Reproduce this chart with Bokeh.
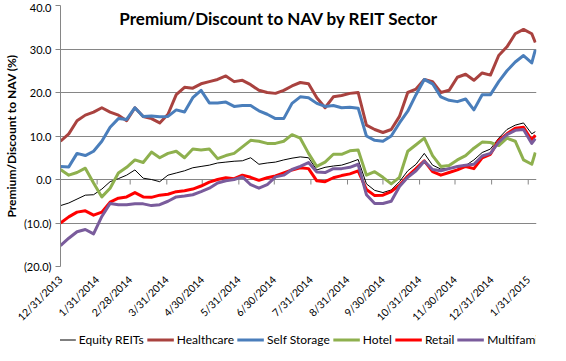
import math
import pandas as pd
from bokeh.plotting import figure
from bokeh.layouts import column
from bokeh.models import Range1d, FixedTicker, Legend, LegendItem, Label
from bokeh.embed import file_html
from bokeh.resources import INLINE

# ---------------- data ----------------
start_date = "2013-12-31"
dates = list(pd.date_range(start_date, periods=58, freq="7D")) + [pd.Timestamp("2015-02-06")]

equity_reits = [-6.0, -5.4, -4.5, -3.6, -3.5, -2.2, -0.5, 0.2, 1.0, 2.2,
                0.3, 0.0, -0.5, 1.0, 1.5, 2.0, 2.7, 3.0, 3.3, 3.8,
                4.0, 4.2, 4.3, 5.0, 3.5, 3.8, 4.0, 4.5, 4.9, 5.2,
                5.0, 2.2, 2.8, 3.1, 3.3, 3.9, 4.6, -1.0, -2.5, -3.0,
                -2.4, -0.5, 2.0, 3.5, 6.0, 3.3, 2.4, 2.6, 2.8, 3.2,
                4.5, 6.2, 7.0, 9.5, 11.5, 12.5, 13.0, 10.5, 11.0]
healthcare = [8.8, 10.5, 13.5, 14.8, 15.5, 16.5, 15.5, 14.8, 13.5, 16.5,
              14.5, 14.0, 13.0, 15.0, 19.5, 21.2, 21.0, 22.0, 22.5, 23.0,
              23.8, 22.5, 22.8, 21.8, 20.5, 20.0, 19.8, 20.5, 21.5, 22.3,
              22.0, 18.8, 16.5, 19.0, 19.3, 19.8, 20.0, 12.5, 11.5, 10.8,
              11.5, 14.5, 20.0, 20.8, 23.0, 22.5, 20.0, 20.5, 23.5, 24.2,
              22.8, 24.5, 24.0, 28.5, 30.5, 33.5, 34.5, 33.5, 31.5]
self_storage = [3.0, 2.9, 6.0, 5.5, 6.5, 8.8, 12.0, 14.0, 13.8, 16.5,
                14.5, 14.6, 14.4, 14.5, 16.0, 15.5, 18.8, 20.5, 17.6, 17.6,
                17.8, 16.8, 17.0, 17.0, 15.8, 15.0, 14.0, 14.0, 17.5, 19.0,
                18.8, 17.5, 16.8, 17.0, 16.5, 16.6, 16.4, 10.0, 9.0, 8.8,
                10.0, 13.0, 15.7, 19.5, 23.0, 22.0, 19.0, 18.2, 17.9, 18.5,
                16.0, 19.5, 19.5, 22.5, 25.0, 27.0, 28.5, 26.8, 29.8]
hotel = [2.3, 1.0, 1.6, 2.6, -0.8, -4.0, -2.0, 1.5, 2.8, 4.5,
         3.9, 6.3, 5.0, 6.0, 6.5, 5.0, 7.0, 6.8, 7.0, 4.8,
         5.5, 6.0, 7.5, 9.0, 8.8, 8.3, 8.3, 8.8, 10.3, 9.5,
         6.0, 3.0, 4.0, 5.8, 5.8, 6.6, 6.8, 1.0, 1.8, 0.5,
         -1.0, 0.5, 6.5, 8.0, 9.5, 5.5, 3.0, 3.2, 4.5, 5.5,
         7.2, 8.6, 8.5, 7.8, 9.5, 8.8, 4.5, 3.5, 6.2]
retail = [-10.0, -8.6, -7.5, -7.2, -8.2, -7.5, -5.2, -4.3, -4.0, -3.0,
          -4.0, -4.1, -3.6, -3.4, -2.8, -2.6, -2.2, -1.5, -0.6, 0.0,
          0.4, 0.2, 1.0, 0.5, -0.2, 0.4, 0.8, 1.5, 2.2, 2.7,
          2.5, -0.3, -0.5, 0.4, 0.9, 1.3, 2.0, -2.3, -3.7, -3.6,
          -2.8, -1.3, 0.8, 2.5, 4.3, 1.8, 1.0, 1.6, 2.2, 3.0,
          2.5, 5.0, 5.8, 9.0, 10.5, 11.8, 12.0, 9.0, 10.2]
multifamily = [-15.2, -13.5, -12.0, -11.5, -12.5, -8.5, -5.5, -5.8, -5.8, -5.6,
               -5.6, -6.0, -5.8, -5.0, -4.0, -3.8, -3.5, -2.8, -2.0, -0.8,
               -0.3, 0.0, 0.6, -1.2, -2.0, -1.2, 0.6, 1.0, 2.3, 3.0,
               3.9, 1.7, 1.6, 2.5, 2.5, 2.8, 3.5, -3.5, -5.5, -5.5,
               -5.0, -1.6, 0.5, 2.0, 4.2, 2.3, 2.0, 2.5, 3.0, 3.3,
               3.5, 5.4, 6.0, 8.6, 10.3, 11.3, 11.5, 8.3, 9.4]

series_names = ["Equity REITs", "Healthcare", "Self Storage", "Hotel", "Retail", "Multifamily"]
series_values = [equity_reits, healthcare, self_storage, hotel, retail, multifamily]
series_colors = ["#000000", "#A9423F", "#4A7EBB", "#8EB04E", "#FF0000", "#7A5C9C"]
series_widths = [1, 3, 3, 3, 3, 3]

x_tick_labels = ["12/31/2013", "1/31/2014", "2/28/2014", "3/31/2014", "4/30/2014",
                 "5/31/2014", "6/30/2014", "7/31/2014", "8/31/2014", "9/30/2014",
                 "10/31/2014", "11/30/2014", "12/31/2014", "1/31/2015"]
y_ticks = [-20, -10, 0, 10, 20, 30, 40]
y_tick_labels = ["(20.0)", "(10.0)", "0.0", "10.0", "20.0", "30.0", "40.0"]

title_text = "Premium/Discount to NAV by REIT Sector"
y_label = "Premium/Discount to NAV (%)"

# ---------------- derived ----------------
t0 = pd.Timestamp(start_date)
x_days = [(d - t0).days for d in dates]
tick_days = [(pd.Timestamp(pd.to_datetime(s, format="%m/%d/%Y")) - t0).days for s in x_tick_labels]

FONT = "Lato"
GRID = "#868686"

p = figure(width=550, height=330,
           x_range=Range1d(0, 403), y_range=Range1d(-20, 40),
           output_backend="svg", toolbar_location=None,
           min_border_left=52, min_border_right=14, min_border_top=5, min_border_bottom=0,
           background_fill_color="white", border_fill_color="white",
           outline_line_color=None)

# axes
p.yaxis.ticker = FixedTicker(ticks=y_ticks)
p.yaxis.major_label_overrides = {t: l for t, l in zip(y_ticks, y_tick_labels)}
p.yaxis.minor_tick_line_color = None
p.yaxis.major_tick_in = 0
p.yaxis.major_tick_out = 5
p.yaxis.major_tick_line_color = GRID
p.yaxis.axis_line_color = GRID
p.yaxis.major_label_text_font = FONT
p.yaxis.major_label_text_font_size = "11px"
p.yaxis.major_label_text_color = "#000000"
p.yaxis.major_label_standoff = 4
p.yaxis.axis_label = y_label
p.yaxis.axis_label_text_font = FONT
p.yaxis.axis_label_text_font_size = "12px"
p.yaxis.axis_label_text_font_style = "bold"
p.yaxis.axis_label_text_color = "#000000"
p.yaxis.axis_label_standoff = 2

p.xaxis.ticker = FixedTicker(ticks=tick_days)
p.xaxis.major_label_overrides = {t: l for t, l in zip(tick_days, x_tick_labels)}
p.xaxis.major_label_orientation = math.pi / 4
p.xaxis.minor_tick_line_color = None
p.xaxis.major_tick_line_color = None
p.xaxis.axis_line_color = None
p.xaxis.major_label_text_font = FONT
p.xaxis.major_label_text_font_size = "10.5px"
p.xaxis.major_label_text_color = "#000000"
p.xaxis.major_label_standoff = 5

p.xgrid.grid_line_color = None
p.ygrid.ticker = FixedTicker(ticks=y_ticks)
p.ygrid.grid_line_color = GRID
p.ygrid.grid_line_width = 1

# tick marks hanging from the zero line (Excel axis crosses at 0)
p.segment(x0=tick_days, y0=[0] * len(tick_days), x1=tick_days,
          y1=[-1.15] * len(tick_days), line_color=GRID, line_width=1)

for name, vals, col, w in zip(series_names, series_values, series_colors, series_widths):
    p.line(x_days, vals, line_color=col, line_width=w, line_join="round")

p.add_layout(Label(x=185, y=37.0, text=title_text, text_align="center",
                   text_baseline="middle", text_font=FONT, text_font_style="bold",
                   text_font_size="17px", text_color="#000000"))

# ---------------- legend strip (separate small figure) ----------------
pl = figure(width=550, height=18, x_range=Range1d(5000, 5001), y_range=Range1d(0, 1),
            output_backend="svg", toolbar_location=None,
            x_axis_location=None, y_axis_location=None,
            min_border=0, outline_line_color=None,
            background_fill_color="white", border_fill_color="white")
pl.grid.grid_line_color = None

items = []
for name, vals, col, w in zip(series_names, series_values, series_colors, series_widths):
    r = pl.line(x_days, vals, line_color=col, line_width=w)
    items.append(LegendItem(label=name, renderers=[r]))

legend = Legend(items=items, orientation="horizontal", location="center",
                glyph_width=27, glyph_height=12, label_standoff=3, spacing=3,
                padding=0, margin=0, border_line_color=None,
                background_fill_alpha=0,
                label_text_font=FONT, label_text_font_size="12px",
                label_text_color="#000000", label_height=12)
pl.add_layout(legend)

layout = column(p, pl, spacing=0)

open("out.html", "w").write(file_html(layout, INLINE))
